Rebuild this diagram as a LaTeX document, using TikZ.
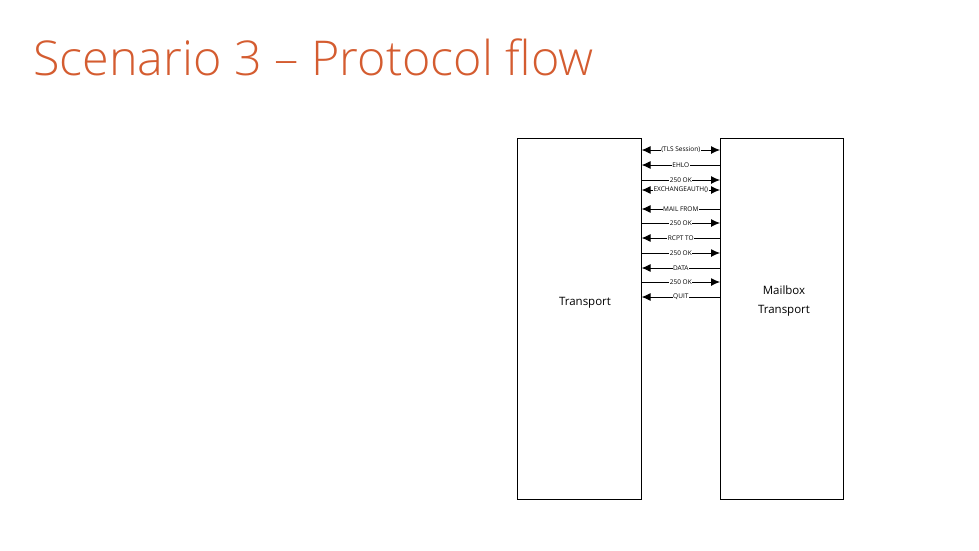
\documentclass[tikz,border=0pt]{standalone}
\usepackage{fontspec}
\usetikzlibrary{arrows.meta}
\setmainfont{Open Sans}
\newfontfamily\titlefont{Open Sans Light}
\definecolor{ttl}{RGB}{212,92,48}
\begin{document}
\begin{tikzpicture}[x=1pt,y=-1pt,
  box/.style={draw,line width=0.6pt,inner sep=0},
  msg/.style={line width=0.9pt,>={Latex[length=9pt,width=8pt]}},
  lbl/.style={fill=white,inner sep=0.5pt,font=\fontsize{6.5}{7}\selectfont}]
\useasboundingbox (0,0) rectangle (979,551);
\node[anchor=west,text=ttl,font=\titlefont\fontsize{48}{52}\selectfont,inner sep=0,xscale=1.01] (title) at (33,57) {Scenario 3 – Protocol flow};
\node[box,minimum width=124,minimum height=361,anchor=north west] (T) at (517,138) {};
\node[box,minimum width=123,minimum height=361,anchor=north west] (M) at (720,138) {};
\node[font=\fontsize{11.5}{14}\selectfont] (tl) at (585,303) {Transport};
\node[font=\fontsize{11.5}{19}\selectfont,align=center] (ml) at (784,301) {Mailbox\\Transport};
\foreach \y/\t/\s in {150/{(TLS Session)}/<->,165/EHLO/<-,180/250 OK/->,190/EXCHANGEAUTH()/<->,209/MAIL FROM/<-,223/250 OK/->,238/RCPT TO/<-,253/250 OK/->,268/DATA/<-,282/250 OK/->,297/QUIT/<-}{
  \coordinate (a) at (T.east |- 0,\y);
  \coordinate (b) at (M.west |- 0,\y);
  \draw[msg,\s] (a) -- (b) node[midway,lbl]{\t};
}
\end{tikzpicture}
\end{document}
